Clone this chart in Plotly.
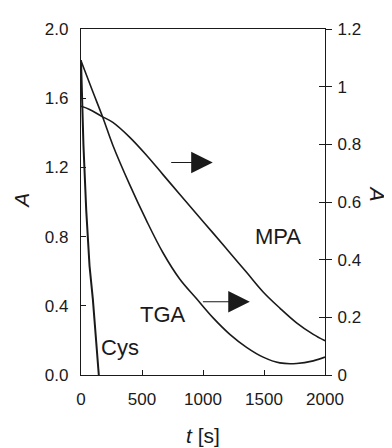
import plotly.graph_objects as go

# Data
cys_t = [0, 8, 20, 43, 56, 70, 97, 125, 144, 146]
cys_a = [1.82, 1.55, 1.33, 0.95, 0.82, 0.63, 0.44, 0.20, 0.01, 0.0]

tga_t = [0, 90, 179, 261, 398, 535, 672, 809, 946, 1083, 1220, 1357, 1493, 1630, 1767, 1904, 2000]
tga_a = [1.09, 0.99, 0.893, 0.797, 0.661, 0.537, 0.424, 0.333, 0.265, 0.198, 0.141, 0.096, 0.062,
         0.042, 0.040, 0.049, 0.062]

mpa_t = [0, 70, 166, 261, 398, 535, 672, 809, 946, 1083, 1220, 1357, 1493, 1630, 1767, 1904, 2000]
mpa_a = [0.932, 0.921, 0.898, 0.876, 0.825, 0.763, 0.695, 0.627, 0.559, 0.492, 0.424, 0.356, 0.288,
         0.232, 0.181, 0.141, 0.119]

x_ticks = [0, 500, 1000, 1500, 2000]
yl_ticks = [0.0, 0.4, 0.8, 1.2, 1.6, 2.0]
yr_ticks = [0, 0.2, 0.4, 0.6, 0.8, 1.0, 1.2]

labels = [("MPA", 1614, 0.481), ("TGA", 669, 0.210), ("Cys", 316, 0.094)]
arrows = [(727, 1080, 0.737), (987, 1384, 0.254)]

INK = "#1a1a1a"
FONT = "Liberation Sans, Arial, sans-serif"

fig = go.Figure()
fig.add_trace(go.Scatter(x=cys_t, y=cys_a, mode="lines", line=dict(color=INK, width=2),
                         yaxis="y", showlegend=False))
fig.add_trace(go.Scatter(x=tga_t, y=tga_a, mode="lines", line=dict(color=INK, width=1.6, shape="spline"),
                         yaxis="y2", showlegend=False))
fig.add_trace(go.Scatter(x=mpa_t, y=mpa_a, mode="lines", line=dict(color=INK, width=1.6, shape="spline"),
                         yaxis="y2", showlegend=False))

annotations = []
for txt, tx, ty in labels:
    annotations.append(dict(text=txt, x=tx, y=ty, xref="x", yref="y2", showarrow=False,
                            xanchor="center", yanchor="middle",
                            font=dict(size=22, color=INK, family=FONT)))
for tail, tip, ay in arrows:
    annotations.append(dict(text="", x=tip, y=ay, ax=tail, ay=ay, xref="x", yref="y2",
                            axref="x", ayref="y2", showarrow=True, arrowhead=2,
                            arrowwidth=1.2, arrowsize=3.6, arrowcolor=INK, standoff=0))
annotations.append(dict(text="<i>t</i> [s]", x=0.5, y=-0.175, xref="paper", yref="paper",
                        xanchor="center", yanchor="middle",
                        showarrow=False, font=dict(size=21, color=INK, family=FONT)))
annotations.append(dict(text="<i>A</i>", x=-0.243, y=0.503, xref="paper", yref="paper",
                        xanchor="center", yanchor="middle",
                        showarrow=False, textangle=-90, font=dict(size=21, color=INK, family=FONT)))
annotations.append(dict(text="<i>A</i>", x=1.215, y=0.523, xref="paper", yref="paper",
                        xanchor="center", yanchor="middle",
                        showarrow=False, textangle=90, font=dict(size=21, color=INK, family=FONT)))

# The page body adds an 8px offset; size the figure so the plot area lands where the reference has it
fig.update_layout(
    width=384, height=440,
    margin=dict(l=73, r=67, t=13, b=73),
    paper_bgcolor="white", plot_bgcolor="white",
    font=dict(family=FONT, size=17, color=INK),
    xaxis=dict(range=[0, 2000], tickvals=x_ticks, ticks="inside", ticklen=5, tickcolor=INK,
               showline=True, linecolor=INK, linewidth=1.2, mirror=True, showgrid=False,
               zeroline=False, ticklabelstandoff=8),
    yaxis=dict(range=[0, 2.0], tickvals=yl_ticks, tickformat=".1f", ticks="inside", ticklen=5,
               tickcolor=INK, showline=True, linecolor=INK, linewidth=1.2, showgrid=False,
               zeroline=False, ticklabelstandoff=8),
    yaxis2=dict(range=[0, 1.2], tickvals=yr_ticks, overlaying="y", side="right", anchor="x",
                ticks="outside", ticklen=6, tickcolor=INK, showline=True, linecolor=INK,
                linewidth=1.2, showgrid=False, zeroline=False, ticklabelstandoff=2),
    yaxis3=dict(range=[0, 1.2], tickvals=yr_ticks, overlaying="y", side="right", anchor="x",
                ticks="inside", ticklen=6, tickcolor=INK, showline=False, showticklabels=False,
                showgrid=False, zeroline=False),
    annotations=annotations,
)
# dummy trace to activate yaxis3
fig.add_trace(go.Scatter(x=[None], y=[None], yaxis="y3", showlegend=False, hoverinfo="skip"))

fig.write_html("out.html")
